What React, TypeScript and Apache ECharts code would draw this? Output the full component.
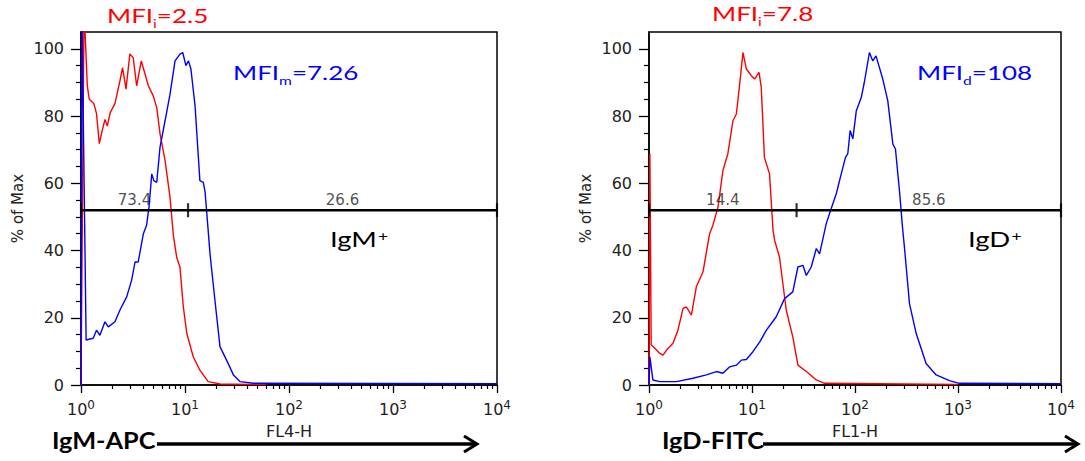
import React, { useEffect, useRef } from 'react';
import * as echarts from 'echarts';

// ---------- axis tick values ----------
const minorLogTicks = [
  2, 3, 4, 5, 6, 7, 8, 9,
  20, 30, 40, 50, 60, 70, 80, 90,
  200, 300, 400, 500, 600, 700, 800, 900,
  2000, 3000, 4000, 5000, 6000, 7000, 8000, 9000,
];
const yMajorTicks = [0, 20, 40, 60, 80, 100];
const yMinorTicks = [5, 10, 15, 25, 30, 35, 45, 50, 55, 65, 70, 75, 85, 90, 95];

// ---------- IgM panel (FL4-H) ----------
const igmIsotype: [number, number][] = [
  [1.0, 0], [1.07, 112], [1.15, 89], [1.2, 85], [1.33, 83.7], [1.41, 80.7], [1.5, 71.8],
  [1.58, 75], [1.7, 79], [1.79, 77], [1.91, 81], [2.12, 83.7], [2.37, 90.5], [2.51, 94.4],
  [2.71, 88], [2.95, 98.5], [3.18, 97.3], [3.43, 89], [3.8, 96.4], [4.44, 89], [4.95, 86],
  [5.35, 82.5], [5.75, 74.8], [6.43, 66.8], [7.18, 55.8], [7.73, 44.5], [8.32, 38],
  [8.95, 35], [9.64, 23.2], [10.4, 15.4], [12.0, 8.4], [13.9, 4.4], [16.7, 1], [21.7, 0.3],
  [42.2, 0.2], [60, 0.2],
];
const igmStained: [number, number][] = [
  [1.0, 0], [1.02, 112], [1.12, 13.4], [1.31, 13.9], [1.41, 16.3], [1.52, 14.8], [1.7, 18.8],
  [1.83, 17.3], [2.12, 18.8], [2.37, 22.3], [2.75, 26.2], [3.07, 31.2], [3.31, 36.6],
  [3.55, 36.6], [3.98, 45], [4.27, 47.5], [4.51, 53], [4.79, 62.8], [5.01, 60.8],
  [5.35, 60.3], [5.75, 70.7], [6.43, 78.6], [7.18, 86.5], [8.02, 96.4], [8.95, 98.4],
  [9.51, 98.9], [10.2, 95], [10.8, 96.4], [11.4, 94], [12.5, 83], [13.9, 60.8], [15.0, 60.3],
  [15.6, 57.4], [16.7, 46], [17.4, 39], [19.4, 25.2], [21.7, 11.4], [25.1, 7.4], [29.2, 3],
  [33.9, 1], [45.4, 0.5], [10000, 0.4],
];
const igmGate = [1, 10.7, 10000];
const igmGatePct = ['73.4', '26.6'];

// ---------- IgD panel (FL1-H) ----------
const igdIsotype: [number, number][] = [
  [1.0, 0], [1.02, 68.8], [1.05, 12], [1.14, 10.9], [1.27, 9.4], [1.37, 8.9], [1.48, 10.4],
  [1.71, 12.4], [1.91, 16.3], [2.14, 22.8], [2.31, 23.2], [2.58, 20.8], [2.88, 29.2],
  [3.34, 33.6], [3.88, 45], [4.17, 47.5], [4.68, 53], [5.22, 63.8], [5.83, 68.8],
  [6.53, 78.6], [7.05, 80.6], [7.59, 89.5], [8.17, 98.9], [8.81, 94], [9.84, 92],
  [10.6, 91], [11.7, 93], [12.3, 88.5], [13.2, 67.7], [14.8, 62.8], [16.0, 46], [16.6, 43],
  [18.5, 38], [21.5, 22.3], [24.9, 14.3], [27.9, 5.9], [33.7, 4], [42.1, 1.5], [50.6, 0.5],
  [1000, 0.2],
];
const igdStained: [number, number][] = [
  [1.0, 0], [1.02, 8.4], [1.09, 1.5], [1.27, 1], [1.85, 1], [2.67, 2], [3.61, 3], [4.51, 4],
  [5.22, 3.5], [6.07, 5.4], [7.05, 5.9], [7.87, 7.4], [8.81, 7.6], [10.2, 9.9], [11.9, 12.8],
  [13.8, 16.3], [17.2, 20.3], [20.7, 25.7], [24.9, 27.7], [27.9, 35.1], [31.2, 35.6],
  [33.7, 32.6], [37.6, 35.1], [42.1, 40.6], [45.3, 39], [52.6, 48], [56.6, 51], [65.8, 56.9],
  [73.5, 62.8], [80.9, 67.7], [85.1, 68.8], [89.7, 75.7], [95.3, 73.2], [103, 81.6],
  [115, 85.5], [124, 90.5], [138, 98.9], [149, 96.4], [160, 97.9], [186, 91], [208, 84.6],
  [233, 71.7], [247, 70.2], [270, 57.9], [291, 46], [302, 41], [338, 24.2], [393, 15.3],
  [490, 6.4], [614, 3], [826, 1.3], [1030, 0.5], [10000, 0.4],
];
const igdGate = [1, 27.1, 10000];
const igdGatePct = ['14.4', '85.6'];

const gateLevel = 52;

const AX_FONT = '"DejaVu Sans", Verdana, sans-serif';
const CAL_FONT = 'Lato, "Open Sans", sans-serif';
const RED = '#ff0000';
const BLUE = '#0000ff';
const INK = '#222222';

function mainX(grid: number, name: string) {
  return {
    type: 'log', logBase: 10, min: 1, max: 10000, gridIndex: grid, position: 'bottom',
    name, nameLocation: 'middle', nameGap: 38,
    nameTextStyle: { fontFamily: AX_FONT, fontSize: 16, color: INK },
    axisLine: { show: true, onZero: false, lineStyle: { color: '#000', width: 1.5 } },
    axisTick: { show: true, length: 8, lineStyle: { color: '#000', width: 1.3 } },
    splitLine: { show: false },
    minorTick: { show: false },
    axisLabel: {
      margin: 12,
      formatter: (v: number) => `{b|10}{s|${Math.round(Math.log10(v))}}`,
      rich: {
        b: { fontFamily: AX_FONT, fontSize: 16, color: INK, lineHeight: 20, verticalAlign: 'bottom' },
        s: { fontFamily: AX_FONT, fontSize: 12, color: INK, lineHeight: 20, verticalAlign: 'bottom', padding: [0, 0, 6, 0] },
      },
    },
  };
}
function minorX(grid: number) {
  return {
    type: 'log', logBase: 10, min: 1, max: 10000, gridIndex: grid, position: 'bottom',
    axisLine: { show: false, onZero: false },
    axisTick: { show: true, length: 4, customValues: minorLogTicks, lineStyle: { color: '#000', width: 1.2 } },
    axisLabel: { show: false },
    splitLine: { show: false },
  };
}
function mainY(grid: number) {
  return {
    type: 'value', min: 0, max: 105, interval: 20, gridIndex: grid, position: 'left',
    name: '% of Max', nameLocation: 'middle', nameGap: 56, nameRotate: 90,
    nameTextStyle: { fontFamily: AX_FONT, fontSize: 15, color: INK },
    axisLine: { show: true, onZero: false, lineStyle: { color: '#000', width: 1.5 } },
    axisTick: { show: true, length: 10, customValues: yMajorTicks, lineStyle: { color: '#000', width: 1.3 } },
    axisLabel: { customValues: yMajorTicks, margin: 17, fontFamily: AX_FONT, fontSize: 16, color: INK },
    splitLine: { show: false },
  };
}
function minorY(grid: number) {
  return {
    type: 'value', min: 0, max: 105, gridIndex: grid, position: 'left',
    axisLine: { show: false, onZero: false },
    axisTick: { show: true, length: 5, customValues: yMinorTicks, lineStyle: { color: '#000', width: 1.2 } },
    axisLabel: { show: false },
    splitLine: { show: false },
  };
}

function panelSeries(axis: number, red: [number, number][], blue: [number, number][], gate: number[], pct: string[]) {
  const mids = [Math.sqrt(gate[0] * gate[1]), Math.sqrt(gate[1] * gate[2])];
  return [
    {
      type: 'line', xAxisIndex: axis, yAxisIndex: axis, data: red, showSymbol: false, symbol: 'none',
      lineStyle: { color: RED, width: 1.4 }, z: 3, clip: true,
    },
    {
      type: 'line', xAxisIndex: axis, yAxisIndex: axis, data: blue, showSymbol: false, symbol: 'none',
      lineStyle: { color: BLUE, width: 1.4 }, z: 4, clip: true,
    },
    {
      type: 'line', xAxisIndex: axis, yAxisIndex: axis,
      data: [[gate[0], gateLevel], [gate[2], gateLevel]], showSymbol: false, symbol: 'none',
      lineStyle: { color: '#000', width: 2.6 }, z: 5, clip: false,
    },
    {
      type: 'scatter', xAxisIndex: axis, yAxisIndex: axis,
      data: gate.map((g) => [g, gateLevel]), symbol: 'rect', symbolSize: [2.2, 14],
      itemStyle: { color: '#000' }, z: 6, clip: false,
    },
    {
      type: 'scatter', xAxisIndex: axis, yAxisIndex: axis,
      data: mids.map((m, i) => ({ value: [m, gateLevel], name: pct[i] })), symbolSize: 0,
      label: {
        show: true, position: 'top', distance: 3, formatter: '{b}',
        fontFamily: AX_FONT, fontSize: 15, color: INK,
      },
      z: 6, clip: false,
    },
  ];
}

function calText(x: number, y: number, main: string, sub: string, rest: string, color: string, size: number, subMode: 'sub' | 'sup', sx: number) {
  const rich: any = {
    a: { fontFamily: CAL_FONT, fontSize: size, fill: color, lineHeight: size + 4, verticalAlign: 'top' },
    s: subMode === 'sub'
      ? { fontFamily: CAL_FONT, fontSize: Math.round(size * 0.62), fill: color, lineHeight: 14, verticalAlign: 'top', padding: [12, 0, 0, 0] }
      : { fontFamily: CAL_FONT, fontSize: Math.round(size * 0.62), fill: color, lineHeight: 14, verticalAlign: 'top', padding: [1, 0, 0, 1] },
  };
  return {
    type: 'text', x, y, scaleX: sx, z: 10,
    style: {
      text: `{a|${main}}{s|${sub}}` + (rest ? `{a|${rest}}` : ''),
      rich, align: 'left', verticalAlign: 'top',
    },
  };
}

function arrow(x1: number, x2: number, y: number) {
  return [
    { type: 'line', z: 10, shape: { x1, y1: y, x2: x2 - 1, y2: y }, style: { stroke: '#000', lineWidth: 3.5 } },
    {
      type: 'polyline', z: 10,
      shape: { points: [[x2 - 13, y - 8], [x2, y], [x2 - 13, y + 8]] },
      style: { stroke: '#000', lineWidth: 3, fill: null },
    },
  ];
}

export default function App() {
  const ref = useRef<HTMLDivElement>(null);
  useEffect(() => {
    if (!ref.current) return;
    const chart = echarts.init(ref.current, undefined, { renderer: 'svg' });
    const option: any = {
      animation: false,
      backgroundColor: '#ffffff',
      grid: [
        { left: 81, top: 32, width: 416, height: 353, show: true, borderColor: '#000', borderWidth: 1.5, backgroundColor: 'transparent', containLabel: false },
        { left: 649, top: 32, width: 412, height: 353, show: true, borderColor: '#000', borderWidth: 1.5, backgroundColor: 'transparent', containLabel: false },
      ],
      xAxis: [mainX(0, 'FL4-H'), minorX(0), mainX(1, 'FL1-H'), minorX(1)],
      yAxis: [mainY(0), minorY(0), mainY(1), minorY(1)],
      series: [
        ...panelSeries(0, igmIsotype, igmStained, igmGate, igmGatePct),
        ...panelSeries(2, igdIsotype, igdStained, igdGate, igdGatePct),
      ],
      graphic: [
        calText(107, 5, 'MFI', 'i', '=2.5', RED, 20, 'sub', 1.3),
        calText(233, 62, 'MFI', 'm', '=7.26', BLUE, 20, 'sub', 1.3),
        calText(712, 3, 'MFI', 'i', '=7.8', RED, 20, 'sub', 1.3),
        calText(917, 62, 'MFI', 'd', '=108', BLUE, 20, 'sub', 1.3),
        calText(330, 227, 'IgM', '+', '', '#000', 22, 'sup', 1.25),
        calText(968, 227, 'IgD', '+', '', '#000', 22, 'sup', 1.25),
        {
          type: 'text', x: 52, y: 430, z: 10, scaleX: 1.15,
          style: { text: 'IgM-APC', fontFamily: CAL_FONT, fontWeight: 'bold', fontSize: 22, fill: '#000', align: 'left', verticalAlign: 'top' },
        },
        {
          type: 'text', x: 662, y: 430, z: 10, scaleX: 1.15,
          style: { text: 'IgD-FITC', fontFamily: CAL_FONT, fontWeight: 'bold', fontSize: 22, fill: '#000', align: 'left', verticalAlign: 'top' },
        },
        ...arrow(157, 477, 444),
        ...arrow(763, 1078, 444),
      ],
    };
    chart.setOption(option);
    return () => chart.dispose();
  }, []);
  return (
    <div
      ref={ref}
      style={{ position: 'fixed', left: 0, top: 0, width: 1085, height: 461, background: '#fff' }}
    />
  );
}
